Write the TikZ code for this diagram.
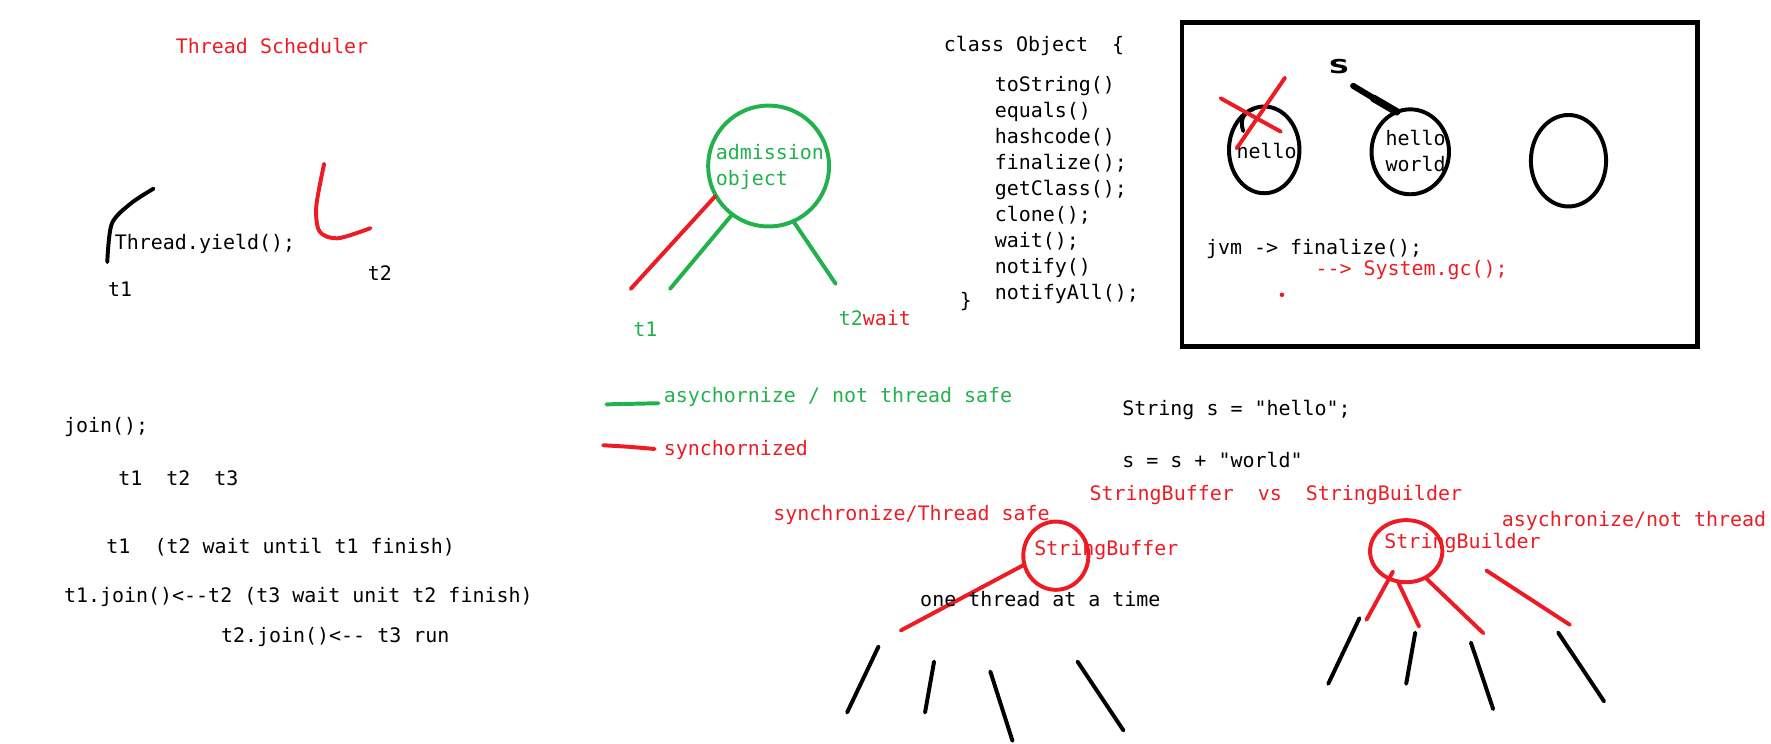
\documentclass[tikz,border=0pt]{standalone}
\usepackage{fontspec}
\setmonofont{DejaVu Sans Mono}
\definecolor{PaintRed}{HTML}{ED1C24}
\definecolor{PaintGreen}{HTML}{22B14C}

\begin{document}
\begin{tikzpicture}[x=0.6pt,y=-0.6pt,line width=2.1pt,line cap=round,
    font=\ttfamily\fontsize{10.6}{13.8}\selectfont,
    txt/.style={anchor=base west,inner sep=0pt,xshift=-1.2pt},
    redtxt/.style={txt,text=PaintRed},
    greentxt/.style={txt,text=PaintGreen}]
  \useasboundingbox (0,0) rectangle (1568,658);

  % thread scheduler
  \node[redtxt] (sched) at (156,47.5) {Thread Scheduler};
  \draw plot[smooth] coordinates {(95,232) (99,198) (116,180) (136,167)};
  \draw[PaintRed] plot[smooth] coordinates {(287,145) (280,183) (283,205) (299,211) (328,202)};
  \node[txt] (yield) at (102,220.5) {Thread.yield();};
  \node[txt] (yt1) at (96,262.5) {t1};
  \node[txt] (yt2) at (326,248.5) {t2};

  % join
  \node[txt] (join) at (57,383) {join();};
  \node[txt] (jthreads) at (105,429.5) {t1~~t2~~t3};
  \node[txt] (jline1) at (94.5,490) {t1~~(t2 wait until t1 finish)};
  \node[txt] (jline2) at (57,533) {t1.join()<--t2 (t3 wait unit t2 finish)};
  \node[txt] (jline3) at (196,568.5) {t2.join()<-- t3 run};

  % admission object
  \draw[PaintGreen] (680.5,147) circle[radius=53.5];
  \node[greentxt] (adm) at (634,141) {admission};
  \node[greentxt] (obj) at (634,164) {object};
  \draw[PaintRed] (558.4,255.8) -- (633,174);
  \draw[PaintGreen] (593.2,255.8) -- (647.9,190.3);
  \draw[PaintGreen] (702.6,196.2) -- (739.9,251.3);
  \node[greentxt] (at1) at (561,297.5) {t1};
  \node[txt] (at2) at (743,288.5) {\textcolor{PaintGreen}{t2}\textcolor{PaintRed}{wait}};

  % legend
  \draw[PaintGreen] (537,358) -- (560,357.5) -- (583,357);
  \node[greentxt] (lgreen) at (588,356) {asychornize / not thread safe};
  \draw[PaintRed] (534,394.2) -- (556,395.5) -- (579.6,397.5);
  \node[redtxt] (lred) at (588,403) {synchornized};

  % class Object
  \node[txt] (cls) at (836,45.5) {class Object~~\{};
  \foreach \m [count=\i from 0] in {toString(),equals(),hashcode(),finalize();,
      getClass();,clone();,wait();,notify(),notifyAll();}
    \node[txt] (m\i) at (881,80.7+23.05*\i) {\m};
  \node[txt] (clsend) at (850,272) {\}};

  % heap box
  \draw[line width=2.4pt,line cap=butt] (1046.7,19.8) rectangle (1503,306.8);
  \node[font=\ttfamily\bfseries,inner sep=0pt] (s) at (1185.5,58.8) {\scalebox{2.0}[1.35]{s}};
  \draw[line width=3.2pt] (1198,76) -- (1218,88);
  \draw[line width=4pt] (1216,87) -- (1236.5,99);
  \draw (1119.3,132.7) ellipse[x radius=31.2,y radius=38.4];
  \draw (1100.7,116) .. controls (1097,105) and (1102,99) .. (1110,96.5);
  \node[txt] (h1) at (1095,140.5) {hello};
  \draw[PaintRed] (1080.7,87) -- (1134,116.6);
  \draw[PaintRed] (1137.7,68.8) -- (1094.9,131.3);
  \draw (1248.6,134.4) ellipse[x radius=34.3,y radius=37.6];
  \node[txt] (h2) at (1227,128.8) {hello};
  \node[txt] (w2) at (1227,151.5) {world};
  \draw (1388.7,142.3) ellipse[x radius=33.3,y radius=40.5];
  \node[txt] (jvm) at (1068,225) {jvm -> finalize();};
  \node[redtxt] (gc) at (1165,244) {--> System.gc();};
  \fill[PaintRed] (1135,261) circle[radius=2];

  % strings
  \node[txt] (str1) at (994,367.5) {String s = "hello";};
  \node[txt] (str2) at (994,414) {s = s + "world"};
  \node[redtxt] (vs) at (965,443) {StringBuffer~~vs~~StringBuilder};

  % StringBuffer
  \node[redtxt] (sbsafe) at (685,461) {synchronize/Thread safe};
  \draw[PaintRed] (934.8,492) ellipse[x radius=28.8,y radius=30.2];
  \node[redtxt] (sbuf) at (916,492) {StringBuffer};
  \draw[PaintRed] (797.5,558.2) -- (906.6,500.1);
  \node[txt] (one) at (815,537) {one thread at a time};
  \draw (777.8,572.4) -- (750,630.8);
  \draw (827,585.7) -- (819,630.8);
  \draw (876.8,594.5) -- (896.4,655.9);
  \draw (954,585.7) -- (994.7,646.7);

  % StringBuilder
  \node[redtxt] (sbnot) at (1330,466) {asychronize/not thread};
  \draw[PaintRed] (1245,488) ellipse[x radius=32,y radius=27.5];
  \node[redtxt] (sbld) at (1226,486) {StringBuilder};
  \draw[PaintRed] (1233.3,506) -- (1209.8,548.8);
  \draw[PaintRed] (1238,515.8) -- (1256.4,554.7);
  \draw[PaintRed] (1262.6,512) -- (1313.3,560.6);
  \draw[PaintRed] (1316,505.1) -- (1389.9,553.2);
  \draw (1203.6,547.3) -- (1176,605.4);
  \draw (1253,560) -- (1245,605.4);
  \draw (1302.3,568.9) -- (1322,627.8);
  \draw (1379.5,560) -- (1420.2,621);
\end{tikzpicture}
\end{document}
